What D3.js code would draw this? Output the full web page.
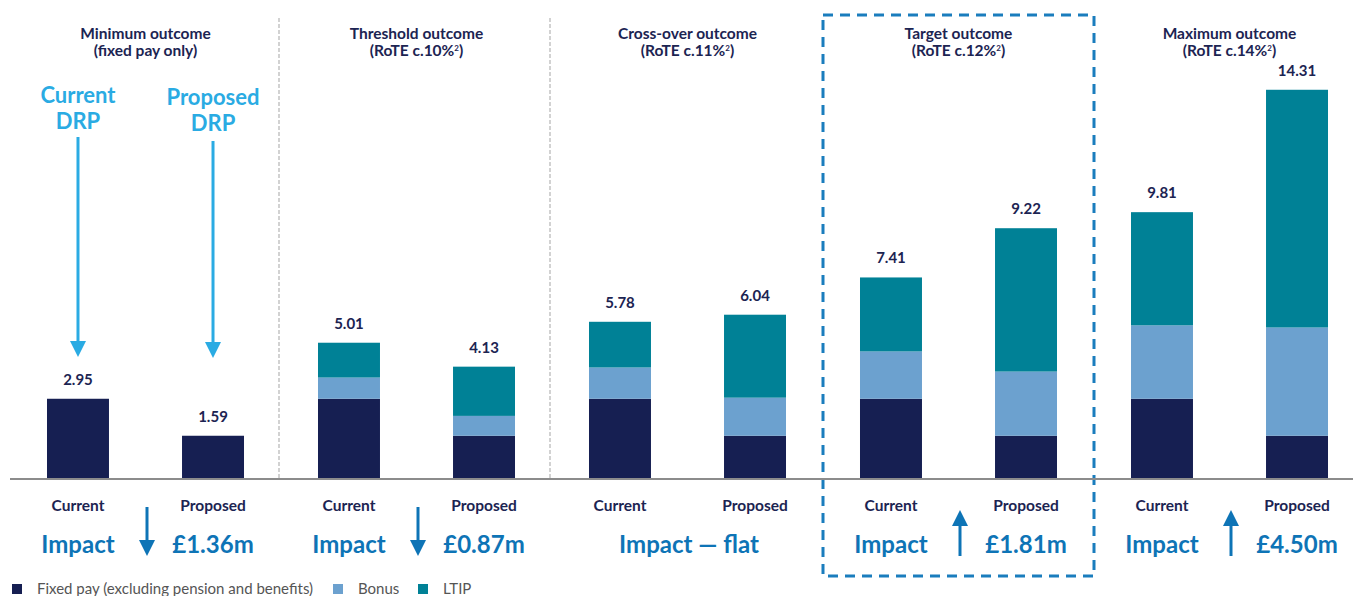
<!DOCTYPE html>
<html>
<head>
<meta charset="utf-8">
<script src="https://cdnjs.cloudflare.com/ajax/libs/d3/7.8.5/d3.min.js"></script>
<style>
  body { margin: 0; background: #fff; }
  svg { font-family: Lato, "Open Sans", sans-serif; display: block; }
</style>
</head>
<body>
<svg id="chart"></svg>
<script>
var groups = ["Minimum outcome", "Threshold outcome", "Cross-over outcome", "Target outcome", "Maximum outcome"];
var rote = [null, "10", "11", "12", "14"];
var plans = ["Current", "Proposed"];

var fixedCurrent = [2.95, 2.95, 2.95, 2.95, 2.95],
    bonusCurrent = [0, 0.78, 1.15, 1.74, 2.70],
    ltipCurrent = [0, 1.28, 1.68, 2.72, 4.16];
var fixedProposed = [1.59, 1.59, 1.59, 1.59, 1.59],
    bonusProposed = [0, 0.73, 1.40, 2.36, 3.98],
    ltipProposed = [0, 1.81, 3.05, 5.27, 8.74];
var totalCurrent = ["2.95", "5.01", "5.78", "7.41", "9.81"],
    totalProposed = ["1.59", "4.13", "6.04", "9.22", "14.31"];

var impactText = ["£1.36m", "£0.87m", "flat", "£1.81m", "£4.50m"];
var impactDir = ["down", "down", "flat", "up", "up"];

var keys = ["fixed", "bonus", "ltip"];
var legendLabels = ["Fixed pay (excluding pension and benefits)", "Bonus", "LTIP"];
var colors = {fixed: "#161f52", bonus: "#6ca1cf", ltip: "#008196"};

var navy = "#1c2452", impactBlue = "#0e74b6", drpBlue = "#2aabe3";

var W = 1353, H = 596, base = 479;
var svg = d3.select("#chart").attr("width", W).attr("height", H);

var rows = [];
groups.forEach(function(g, i) {
    rows.push({group: g, plan: "Current", fixed: fixedCurrent[i], bonus: bonusCurrent[i], ltip: ltipCurrent[i], total: totalCurrent[i]});
    rows.push({group: g, plan: "Proposed", fixed: fixedProposed[i], bonus: bonusProposed[i], ltip: ltipProposed[i], total: totalProposed[i]});
});

var x0 = d3.scaleBand().domain(groups).range([10, 10 + 271 * 5]);
var x1 = d3.scaleBand().domain(plans).range([0, x0.bandwidth()]).paddingInner(0.541).paddingOuter(0.274);
var y = d3.scaleLinear().domain([0, 15]).range([base, 71]);

function cx(g, p) { return x0(g) + x1(p) + x1.bandwidth() / 2; }

// group dividers
[1, 2].forEach(function(i) {
    svg.append("line")
        .attr("x1", x0(groups[i]) - 2).attr("x2", x0(groups[i]) - 2)
        .attr("y1", 18).attr("y2", base)
        .attr("stroke", "#d2d2d2").attr("stroke-width", 2)
        .attr("stroke-dasharray", "4,2");
});

// target box
svg.append("rect")
    .attr("x", x0(groups[3])).attr("y", 15)
    .attr("width", x0.bandwidth()).attr("height", 561)
    .attr("fill", "none").attr("stroke", "#1a7dbd").attr("stroke-width", 3)
    .attr("stroke-dasharray", "10,7");

// stacked bars
var stacked = d3.stack().keys(keys)(rows);
svg.append("g").selectAll("g")
    .data(stacked).join("g")
    .attr("fill", function(d) { return colors[d.key]; })
    .selectAll("rect")
    .data(function(d) { return d.filter(function(s) { return s[1] > s[0]; }); })
    .join("rect")
    .attr("x", function(d) { return x0(d.data.group) + x1(d.data.plan); })
    .attr("y", function(d) { return y(d[1]); })
    .attr("width", x1.bandwidth())
    .attr("height", function(d) { return y(d[0]) - y(d[1]); });

// value labels
svg.append("g").selectAll("text")
    .data(rows).join("text")
    .attr("x", function(d) { return cx(d.group, d.plan); })
    .attr("y", function(d) { return y(d.fixed + d.bonus + d.ltip) - 14; })
    .attr("text-anchor", "middle")
    .attr("fill", navy).attr("font-size", 15).attr("font-weight", 700)
    .text(function(d) { return d.total; });

// baseline
svg.append("line")
    .attr("x1", 10).attr("x2", W).attr("y1", base).attr("y2", base)
    .attr("stroke", "#8c8c8c").attr("stroke-width", 2);

// titles
groups.forEach(function(g, i) {
    var c = x0(g) + x0.bandwidth() / 2;
    svg.append("text").attr("x", c).attr("y", 39)
        .attr("text-anchor", "middle").attr("fill", navy)
        .attr("font-size", 15.5).attr("font-weight", 700).text(g);
    var t = svg.append("text").attr("x", c).attr("y", 56)
        .attr("text-anchor", "middle").attr("fill", navy)
        .attr("font-size", 15.5).attr("font-weight", 700);
    if (rote[i] == null) {
        t.text("(fixed pay only)");
    } else {
        t.append("tspan").text("(RoTE c." + rote[i] + "%");
        t.append("tspan").attr("dy", -5).attr("font-size", 8).text("2");
        t.append("tspan").attr("dy", 5).text(")");
    }
});

// plan labels under bars
svg.append("g").selectAll("text")
    .data(rows).join("text")
    .attr("x", function(d) { return cx(d.group, d.plan); })
    .attr("y", 511)
    .attr("text-anchor", "middle")
    .attr("fill", navy).attr("font-size", 15.5).attr("font-weight", 700)
    .text(function(d) { return d.plan; });

// arrows
function arrow(xp, yFrom, yTip, col) {
    var dir = yTip > yFrom ? 1 : -1;
    svg.append("line")
        .attr("x1", xp).attr("x2", xp)
        .attr("y1", yFrom).attr("y2", yTip - dir * 12)
        .attr("stroke", col).attr("stroke-width", 3);
    svg.append("path")
        .attr("d", "M" + (xp - 8) + "," + (yTip - dir * 16) + "L" + (xp + 8) + "," + (yTip - dir * 16) + "L" + xp + "," + yTip + "Z")
        .attr("fill", col);
}

// DRP annotations
[["Current", 103, 137, 357], ["Proposed", 105, 141, 358]].forEach(function(a) {
    var xp = cx(groups[0], a[0]);
    var t = svg.append("text").attr("x", xp).attr("y", a[1])
        .attr("text-anchor", "middle").attr("fill", drpBlue)
        .attr("font-size", 22).attr("font-weight", 700);
    t.append("tspan").attr("x", xp).text(a[0]);
    t.append("tspan").attr("x", xp).attr("dy", 26).text("DRP");
    arrow(xp, a[2], a[3], drpBlue);
});

// impact row
groups.forEach(function(g, i) {
    var c = x0(g) + x0.bandwidth() / 2 + 1.5;
    if (impactDir[i] == "flat") {
        svg.append("text").attr("x", c).attr("y", 553)
            .attr("text-anchor", "middle").attr("fill", impactBlue)
            .attr("font-size", 24).attr("font-weight", 700)
            .text("Impact — " + impactText[i]);
        return;
    }
    svg.append("text").attr("x", cx(g, "Current")).attr("y", 553)
        .attr("text-anchor", "middle").attr("fill", impactBlue)
        .attr("font-size", 24).attr("font-weight", 700).text("Impact");
    svg.append("text").attr("x", cx(g, "Proposed")).attr("y", 553)
        .attr("text-anchor", "middle").attr("fill", impactBlue)
        .attr("font-size", 24).attr("font-weight", 700).text(impactText[i]);
    if (impactDir[i] == "down") arrow(c, 507, 556, impactBlue);
    else arrow(c, 556, 510, impactBlue);
});

// legend
var lx = [12, 333, 418];
keys.forEach(function(k, i) {
    svg.append("rect").attr("x", lx[i]).attr("y", 584).attr("width", 10).attr("height", 10)
        .attr("fill", colors[k]);
    svg.append("text").attr("x", lx[i] + 25).attr("y", 594)
        .attr("fill", "#555").attr("font-size", 15).text(legendLabels[i]);
});
</script>
</body>
</html>
